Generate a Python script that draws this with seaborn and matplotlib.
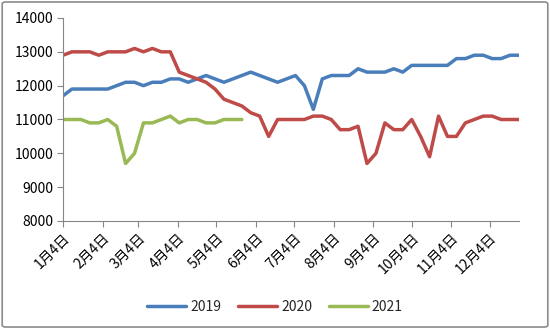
import numpy as np
import pandas as pd
import matplotlib
matplotlib.use("Agg")
import matplotlib.pyplot as plt
import matplotlib.dates as mdates
from matplotlib.patches import FancyBboxPatch
import seaborn as sns

# ---- data ----
series_names = ["2019", "2020", "2021"]
values_2019 = [11700, 11900, 11900, 11900, 11900, 11900, 12000, 12100, 12100, 12000,
               12100, 12100, 12200, 12200, 12100, 12200, 12300, 12200, 12100, 12200,
               12300, 12400, 12300, 12200, 12100, 12200, 12300, 12000, 11300, 12200,
               12300, 12300, 12300, 12500, 12400, 12400, 12400, 12500, 12400, 12600,
               12600, 12600, 12600, 12600, 12800, 12800, 12900, 12900, 12800, 12800,
               12900, 12900]
values_2020 = [12900, 13000, 13000, 13000, 12900, 13000, 13000, 13000, 13100, 13000,
               13100, 13000, 13000, 12400, 12300, 12200, 12100, 11900, 11600, 11500,
               11400, 11200, 11100, 10500, 11000, 11000, 11000, 11000, 11100, 11100,
               11000, 10700, 10700, 10800, 9700, 10000, 10900, 10700, 10700, 11000,
               10500, 9900, 11100, 10500, 10500, 10900, 11000, 11100, 11100, 11000,
               11000, 11000]
values_2021 = [11000, 11000, 11000, 10900, 10900, 11000, 10800, 9700, 10000, 10900,
               10900, 11000, 11100, 10900, 11000, 11000, 10900, 10900, 11000, 11000,
               11000]
week_dates = pd.date_range("2019-01-04", periods=52, freq="7D")
tick_dates = pd.to_datetime([f"2019-{m:02d}-04" for m in range(1, 13)])
tick_labels = [f"{m}月4日" for m in range(1, 13)]
y_ticks = [8000, 9000, 10000, 11000, 12000, 13000, 14000]
colors = {"2019": "#4A7EBB", "2020": "#BE4B48", "2021": "#98B954"}

rows = []
for name, vals in zip(series_names, [values_2019, values_2020, values_2021]):
    for d, v in zip(week_dates[:len(vals)], vals):
        rows.append({"date": d, "value": v, "year": name})
df = pd.DataFrame(rows)

# ---- plot ----
sns.set_style("white")
plt.rcParams["font.family"] = ["Noto Sans CJK SC", "DejaVu Sans"]

fig = plt.figure(figsize=(5.5, 3.29), dpi=100)
ax = fig.add_axes([63/550, 1 - 221/329, (519 - 63)/550, (221 - 18)/329])

sns.lineplot(data=df, x="date", y="value", hue="year", palette=colors,
             linewidth=2.5, ax=ax, legend=True)

ax.set_xlim(week_dates[0], week_dates[-1])
ax.set_ylim(8000, 14000)
ax.set_yticks(y_ticks)
ax.set_yticklabels([str(t) for t in y_ticks], fontsize=10)
ax.set_xticks(tick_dates)
ax.set_xticklabels(tick_labels, rotation=45, ha="right", rotation_mode="anchor",
                   fontsize=10)
ax.set_xlabel("")
ax.set_ylabel("")
for s in ["top", "right"]:
    ax.spines[s].set_visible(False)
for s in ["left", "bottom"]:
    ax.spines[s].set_color("#868686")
    ax.spines[s].set_linewidth(0.8)
ax.tick_params(axis="both", which="major", direction="out", length=4,
               width=0.8, color="#868686", labelcolor="#000000", pad=3,
               left=True, bottom=True)

ax.legend(title=None, loc="center", bbox_to_anchor=(0.5, (329 - 307) / 329),
          bbox_transform=fig.transFigure, ncol=3, frameon=False, fontsize=10,
          handlelength=2.8, columnspacing=1.2, handletextpad=0.3)

border = FancyBboxPatch((0.004, 0.006), 0.992, 0.988, boxstyle="round,pad=0,rounding_size=0.006",
                        transform=fig.transFigure, fill=False, edgecolor="#8C8C8C",
                        linewidth=1.2)
fig.patches.append(border)

fig.savefig("out.png", dpi=100)
